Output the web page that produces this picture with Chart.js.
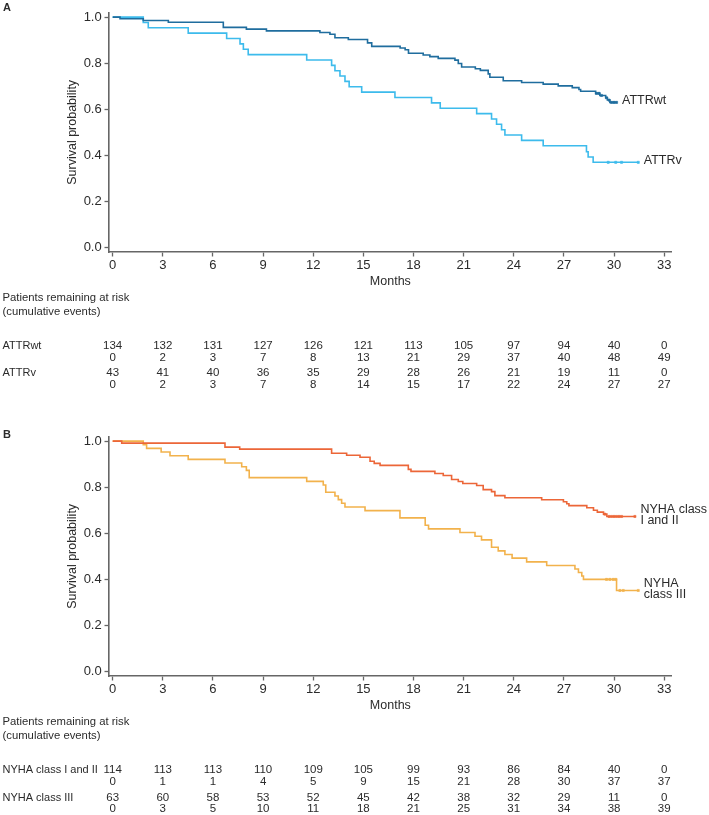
<!DOCTYPE html>
<html><head><meta charset="utf-8">
<script src="https://cdn.jsdelivr.net/npm/chart.js@4.4.1/dist/chart.umd.min.js"></script>
<style>
html,body{margin:0;padding:0;background:#fff;overflow:hidden;}
#wrapA{position:absolute;left:0;top:0;width:709px;height:424px;}
#wrapB{position:absolute;left:0;top:424px;width:709px;height:391px;}
canvas{display:block;}
</style></head><body>
<div id="wrapA"><canvas id="cA" width="709" height="424"></canvas></div>
<div id="wrapB"><canvas id="cB" width="709" height="391"></canvas></div>
<script>
// ---------- axis ticks ----------
const xTicks = [0, 3, 6, 9, 12, 15, 18, 21, 24, 27, 30, 33];
const yTicks = [0, 0.2, 0.4, 0.6, 0.8, 1.0];

// ---------- Panel A: ATTRwt ----------
const attrwtTimes = [0.44, 1.83, 3.33, 6.62, 8.0, 9.2, 12.4, 13.0, 13.3, 14.1, 15.25, 15.5, 17.2, 17.5, 17.7, 18.58, 18.98, 19.48, 20.48, 20.68, 20.88, 21.7, 22.0, 22.47, 22.57, 23.37, 24.47, 25.76, 26.66, 27.5, 27.9, 28.0, 28.9, 29.15, 29.5, 29.6, 29.75];
const attrwtSurv  = [0.9925, 0.9851, 0.9776, 0.9552, 0.9478, 0.9403, 0.9328, 0.9254, 0.9104, 0.9030, 0.8881, 0.8731, 0.8657, 0.8582, 0.8433, 0.8358, 0.8284, 0.8209, 0.8134, 0.7985, 0.7836, 0.7761, 0.7687, 0.7537, 0.7388, 0.7239, 0.7164, 0.7090, 0.7015, 0.694, 0.686, 0.678, 0.669, 0.660, 0.650, 0.640, 0.630];
const attrwtEnd = 30.15;
const attrwtCensor = [28.95, 29.1, 29.25, 29.55, 29.7, 29.85, 30.0, 30.15];

// ---------- Panel A: ATTRv ----------
const attrvTimes = [1.83, 2.13, 4.52, 6.82, 7.62, 7.82, 8.11, 11.61, 13.1, 13.3, 13.6, 13.9, 14.15, 14.9, 16.89, 19.08, 19.6, 21.78, 22.67, 22.97, 23.27, 23.47, 24.47, 25.76, 28.35, 28.45, 28.75];
const attrvSurv  = [0.9767, 0.9535, 0.9302, 0.9070, 0.8837, 0.8605, 0.8372, 0.8140, 0.7907, 0.7674, 0.7442, 0.7209, 0.6977, 0.6744, 0.6512, 0.6279, 0.6047, 0.5814, 0.5581, 0.5349, 0.5116, 0.4884, 0.4651, 0.4419, 0.416, 0.393, 0.370];
const attrvEnd = 31.45;
const attrvCensor = [29.65, 30.1, 30.45, 31.45];

// ---------- Panel B: NYHA class I and II ----------
const nyha12Times = [0.54, 6.72, 7.6, 13.1, 14.0, 14.8, 15.4, 15.65, 16.0, 17.69, 17.85, 19.28, 19.78, 20.28, 20.68, 20.95, 21.78, 22.17, 22.67, 22.87, 23.47, 25.67, 26.97, 27.17, 27.3, 28.37, 28.77, 29.0, 29.37, 29.57];
const nyha12Surv  = [0.9912, 0.9737, 0.9649, 0.9474, 0.9386, 0.9298, 0.9123, 0.9035, 0.8947, 0.8772, 0.8684, 0.8596, 0.8509, 0.8333, 0.8246, 0.8158, 0.8070, 0.7895, 0.7807, 0.7632, 0.7544, 0.7456, 0.7368, 0.728, 0.720, 0.711, 0.700, 0.692, 0.683, 0.673];
const nyha12End = 31.25;
const nyha12Censor = [29.45, 29.7, 29.85, 30.0, 30.15, 30.3, 30.45, 31.25];

// ---------- Panel B: NYHA class III ----------
const nyha3Times = [1.83, 2.03, 2.9, 3.43, 4.52, 6.72, 7.72, 8.0, 8.17, 11.61, 12.6, 12.75, 13.3, 13.5, 13.7, 13.9, 15.1, 17.19, 18.7, 18.9, 20.78, 21.68, 22.07, 22.67, 23.07, 23.47, 23.9, 24.77, 25.97, 27.66, 27.87, 28.07, 28.17, 30.15];
const nyha3Surv  = [0.9841, 0.9683, 0.9524, 0.9365, 0.9206, 0.9048, 0.8889, 0.8730, 0.8413, 0.8254, 0.8095, 0.7778, 0.7619, 0.7460, 0.7302, 0.7143, 0.6984, 0.6667, 0.6349, 0.6190, 0.6032, 0.5873, 0.5714, 0.5397, 0.5238, 0.5079, 0.4921, 0.4762, 0.4603, 0.445, 0.430, 0.415, 0.400, 0.352];
const nyha3End = 31.45;
const nyha3Censor = [29.55, 29.75, 29.95, 30.1, 30.35, 30.55, 31.45];

// ---------- Risk tables ----------
const riskTimes = [0, 3, 6, 9, 12, 15, 18, 21, 24, 27, 30, 33];
const attrwtAtRisk = [134, 132, 131, 127, 126, 121, 113, 105, 97, 94, 40, 0];
const attrwtEvents = [0, 2, 3, 7, 8, 13, 21, 29, 37, 40, 48, 49];
const attrvAtRisk  = [43, 41, 40, 36, 35, 29, 28, 26, 21, 19, 11, 0];
const attrvEvents  = [0, 2, 3, 7, 8, 14, 15, 17, 22, 24, 27, 27];
const nyha12AtRisk = [114, 113, 113, 110, 109, 105, 99, 93, 86, 84, 40, 0];
const nyha12Events = [0, 1, 1, 4, 5, 9, 15, 21, 28, 30, 37, 37];
const nyha3AtRisk  = [63, 60, 58, 53, 52, 45, 42, 38, 32, 29, 11, 0];
const nyha3Events  = [0, 3, 5, 10, 11, 18, 21, 25, 31, 34, 38, 39];

// ---------- helpers ----------
const FONT = '"Liberation Sans", Arial, Helvetica, sans-serif';
const TXT = '#2b2b2b';
const AXC = '#666666';

function kmPoints(times, surv, endT) {
  const pts = [{x: 0, y: 1}];
  times.forEach((t, i) => pts.push({x: t, y: surv[i]}));
  pts.push({x: endT, y: surv[surv.length - 1]});
  return pts;
}
function survAt(times, surv, t) {
  let s = 1;
  for (let i = 0; i < times.length; i++) if (times[i] <= t) s = surv[i];
  return s;
}
function censorPoints(times, surv, cens) {
  return cens.map(t => ({x: t, y: survAt(times, surv, t)}));
}

function series(label, color, times, surv, endT, cens) {
  return [
    {label, data: kmPoints(times, surv, endT), borderColor: color, borderWidth: 1.6,
     stepped: 'before', pointRadius: 0, fill: false, tension: 0},
    {label: label + ' censored', data: censorPoints(times, surv, cens), showLine: false,
     pointStyle: 'rect', pointRadius: 1.5, pointBorderWidth: 0.6,
     pointBorderColor: color, pointBackgroundColor: color, borderColor: color, backgroundColor: color}
  ];
}

const kmPlugin = {
  id: 'kmExtras',
  afterDraw(chart) {
    const o = chart.options.plugins.kmExtras;
    const ctx = chart.ctx, xs = chart.scales.x, ys = chart.scales.y;
    ctx.save();
    ctx.fillStyle = TXT;
    ctx.textBaseline = 'middle';
    // panel letter
    ctx.font = 'bold 11px ' + FONT;
    ctx.textAlign = 'left';
    ctx.fillText(o.letter, 3, o.letterY);
    // curve end labels
    ctx.font = '12.5px ' + FONT;
    o.curveLabels.forEach(c => {
      const x = xs.getPixelForValue(c.endT) + 5.5;
      const yc = ys.getPixelForValue(c.lastS) - 1.5;
      const n = c.lines.length;
      c.lines.forEach((ln, i) => {
        ctx.fillText(ln, x, yc + (i - (n - 1) / 2) * 11);
      });
    });
    // risk table
    ctx.font = '11.3px ' + FONT;
    ctx.textAlign = 'left';
    ctx.fillText('Patients remaining at risk', 2.5, 297.7);
    ctx.fillText('(cumulative events)', 2.5, 311.7);
    o.rows.forEach(r => {
      ctx.font = '11px ' + FONT;
      ctx.textAlign = 'left';
      ctx.fillText(r.label, 2.5, r.y1);
      ctx.font = '11.5px ' + FONT;
      ctx.textAlign = 'center';
      riskTimes.forEach((t, i) => {
        const x = xs.getPixelForValue(t);
        ctx.fillText(String(r.atRisk[i]), x, r.y1);
        ctx.fillText(String(r.events[i]), x, r.y2);
      });
    });
    ctx.restore();
  }
};

function makeChart(id, padBottom, datasets, extras) {
  return new Chart(document.getElementById(id), {
    type: 'line',
    data: {datasets},
    options: {
      responsive: false, animation: false, devicePixelRatio: 1,
      layout: {padding: {left: 0, right: 37.3, top: 12.7, bottom: padBottom}},
      plugins: {legend: {display: false}, tooltip: {enabled: false}, kmExtras: extras},
      scales: {
        x: {
          type: 'linear', min: -0.22, max: 33.45,
          afterBuildTicks: s => { s.ticks = xTicks.map(v => ({value: v})); },
          afterFit: s => { s.height = 40; },
          ticks: {autoSkip: false, maxRotation: 0, font: {family: FONT, size: 13}, color: TXT, padding: 1.5,
                  callback: v => String(v)},
          grid: {drawOnChartArea: false, drawTicks: true, tickLength: 4.5, color: AXC, tickWidth: 1.3},
          border: {display: true, color: AXC, width: 1.6},
          title: {display: true, text: 'Months', font: {family: FONT, size: 12.5}, color: TXT,
                  padding: {top: 0, bottom: 2.6}}
        },
        y: {
          type: 'linear', min: -0.019, max: 1.019,
          afterBuildTicks: s => { s.ticks = yTicks.map(v => ({value: v})); },
          afterFit: s => { s.width = 109; },
          ticks: {font: {family: FONT, size: 13}, color: TXT, padding: 2.8,
                  callback: v => Number(v).toFixed(1)},
          grid: {drawOnChartArea: false, drawTicks: true, tickLength: 4.5, color: AXC, tickWidth: 1.3},
          border: {display: true, color: AXC, width: 1.6},
          title: {display: true, text: 'Survival probability', font: {family: FONT, size: 12.5}, color: TXT,
                  padding: {top: 65.5, bottom: 0}}
        }
      }
    },
    plugins: [kmPlugin]
  });
}

const cWT = '#1f6d9e', cV = '#3dbbec', c12 = '#ec6638', c3 = '#f2b24c';

makeChart('cA', 132,
  [...series('ATTRwt', cWT, attrwtTimes, attrwtSurv, attrwtEnd, attrwtCensor),
   ...series('ATTRv', cV, attrvTimes, attrvSurv, attrvEnd, attrvCensor)],
  {letter: 'A', letterY: 8.3,
   curveLabels: [
     {lines: ['ATTRwt'], endT: attrwtEnd, lastS: attrwtSurv[attrwtSurv.length - 1]},
     {lines: ['ATTRv'], endT: attrvEnd, lastS: attrvSurv[attrvSurv.length - 1]}],
   rows: [
     {label: 'ATTRwt', atRisk: attrwtAtRisk, events: attrwtEvents, y1: 345.7, y2: 357.7},
     {label: 'ATTRv', atRisk: attrvAtRisk, events: attrvEvents, y1: 373, y2: 385}]});

makeChart('cB', 99,
  [...series('NYHA class I and II', c12, nyha12Times, nyha12Surv, nyha12End, nyha12Censor),
   ...series('NYHA class III', c3, nyha3Times, nyha3Surv, nyha3End, nyha3Censor)],
  {letter: 'B', letterY: 11.3,
   curveLabels: [
     {lines: ['NYHA class', 'I and II'], endT: nyha12End, lastS: nyha12Surv[nyha12Surv.length - 1]},
     {lines: ['NYHA', 'class III'], endT: nyha3End, lastS: nyha3Surv[nyha3Surv.length - 1]}],
   rows: [
     {label: 'NYHA class I and II', atRisk: nyha12AtRisk, events: nyha12Events, y1: 345.7, y2: 357.7},
     {label: 'NYHA class III', atRisk: nyha3AtRisk, events: nyha3Events, y1: 373.5, y2: 385.3}]});
</script>
</body></html>
